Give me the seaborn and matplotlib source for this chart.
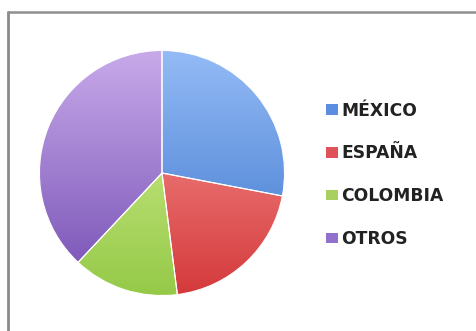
import numpy as np
import matplotlib
matplotlib.use("Agg")
import matplotlib.pyplot as plt
import matplotlib.colors as mcolors
from matplotlib.lines import Line2D
from matplotlib.patches import Patch
import seaborn as sns

# Data (shares, percent)
paises = ["MÉXICO", "ESPAÑA", "COLOMBIA", "OTROS"]
valores = [28, 20, 14, 38]

# gradient colors (top -> bottom) and legend swatch colors
grad_top = ["#94bbf6", "#fb9f9c", "#daf39d", "#c8aaea"]
grad_bot = ["#3a74cb", "#d4393b", "#95c947", "#744eb3"]
swatch = ["#5b8ee0", "#e0525a", "#a8d060", "#9270cc"]

sns.set_theme(style="white")
plt.rcParams['font.family'] = ['DejaVu Sans']

W, H = 476, 331
fig = plt.figure(figsize=(W / 100, H / 100), dpi=100)
fig.patch.set_facecolor("white")

# outer frame (only left and top edges visible in the crop)
fig.add_artist(Line2D([8 / W, 8 / W], [0, 1 - 11.5 / H], color="#8a8a8a", lw=2.0))
fig.add_artist(Line2D([8 / W, 1], [1 - 11.5 / H, 1 - 11.5 / H], color="#8f8f8f", lw=1.8))

cx, cy, r = 162, 173, 125
ax = fig.add_axes([(cx - r) / W, (H - cy - r) / H, 2 * r / W, 2 * r / H])
wedges, _ = ax.pie(valores, startangle=90, counterclock=False, radius=1,
                   colors=swatch, wedgeprops=dict(linewidth=0.8, edgecolor="white"))
ax.set_xlim(-1.02, 1.02)
ax.set_ylim(-1.02, 1.02)
ax.set_aspect("equal")
ax.axis("off")

# vertical gradient fill clipped to each wedge
grad = np.linspace(0, 1, 256).reshape(-1, 1)
for w, ct, cb in zip(wedges, grad_top, grad_bot):
    cmap = mcolors.LinearSegmentedColormap.from_list("g", [ct, cb])
    im = ax.imshow(grad, cmap=cmap, extent=(-1, 1, -1, 1), origin="upper",
                   aspect="auto", zorder=w.get_zorder() + 0.1)
    im.set_clip_path(w)
# thin white separators on top
for w in wedges:
    w.set_facecolor("none")
    w.set_zorder(5)

handles = [Patch(facecolor=c, edgecolor="none") for c in swatch]
leg = fig.legend(handles, paises, loc="upper left",
                 bbox_to_anchor=(317 / W, 1 - 93 / H), frameon=False,
                 fontsize=12.3, handlelength=0.7, handleheight=0.58,
                 handletextpad=0.22, labelspacing=1.45, borderpad=0)
for t in leg.get_texts():
    t.set_color("#222222")
    t.set_fontweight("bold")

fig.savefig("out.png", dpi=100)
